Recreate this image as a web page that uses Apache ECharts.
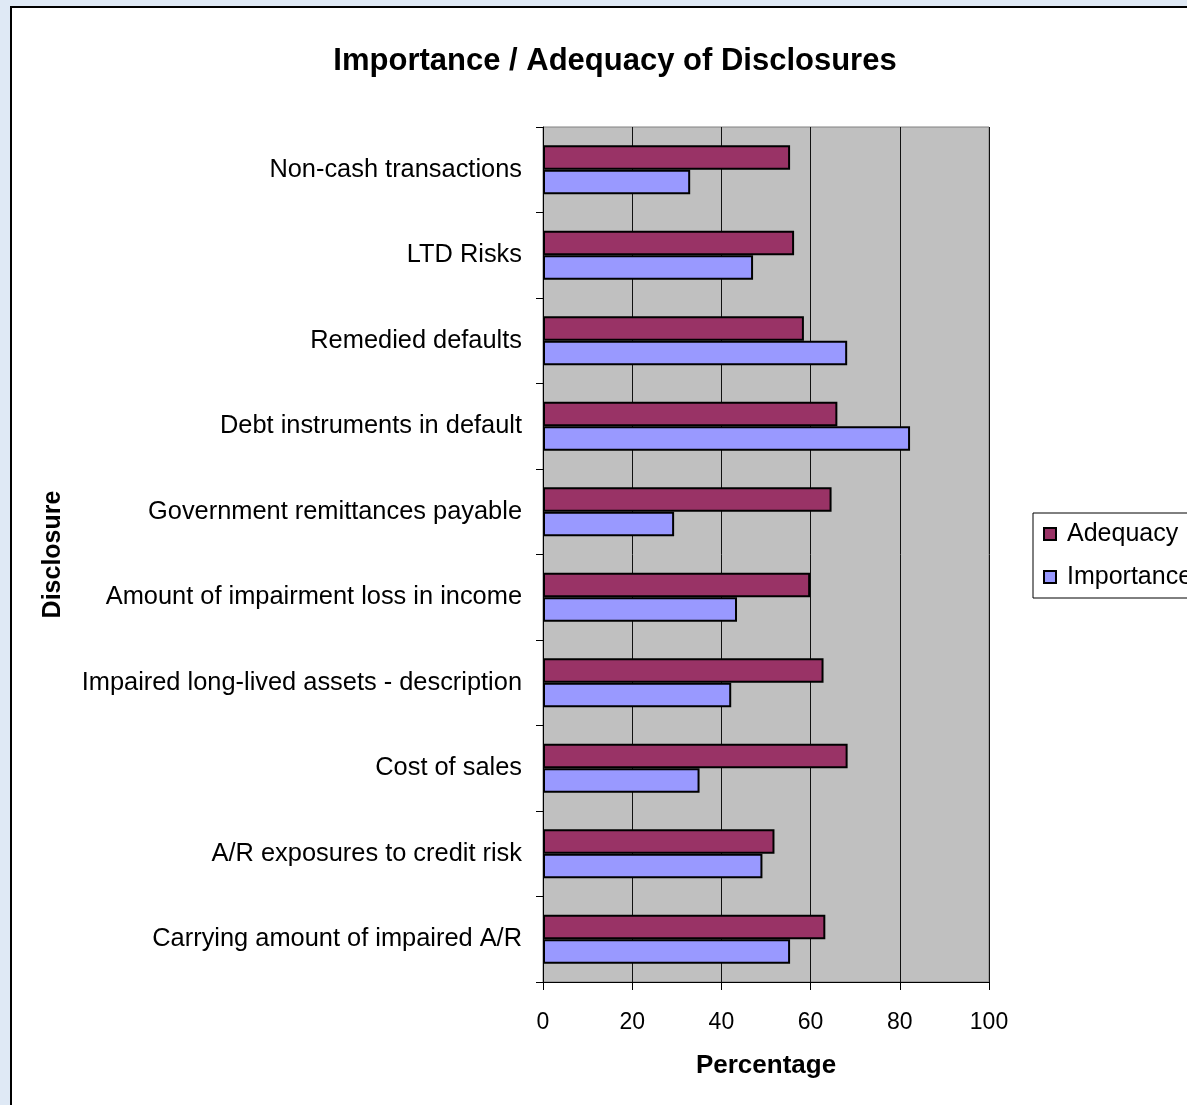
<!DOCTYPE html>
<html>
<head>
<meta charset="utf-8">
<script src="https://cdn.jsdelivr.net/npm/echarts@6/dist/echarts.min.js"></script>
<style>
  html, body { margin: 0; padding: 0; width: 1187px; height: 1105px; overflow: hidden; background: #dfe9f5; }
  #frame { position: absolute; left: 10px; top: 6px; width: 1250px; height: 1200px; background: #ffffff;
           border-left: 2px solid #000; border-top: 2px solid #000; }
  #chart { position: absolute; left: 0; top: 0; width: 1187px; height: 1105px; }
</style>
</head>
<body>
<div id="frame"></div>
<div id="chart"></div>
<script>
// Disclosure items, listed top to bottom
const categories = [
  'Non-cash transactions',
  'LTD Risks',
  'Remedied defaults',
  'Debt instruments in default',
  'Government remittances payable',
  'Amount of impairment loss in income',
  'Impaired long-lived assets - description',
  'Cost of sales',
  'A/R exposures to credit risk',
  'Carrying amount of impaired A/R'
];
const adequacy   = [55.4, 56.3, 58.5, 66.0, 64.7, 59.9, 62.9, 68.3, 51.9, 63.3];
const importance = [33.0, 47.1, 68.2, 82.3, 29.4, 43.5, 42.2, 35.1, 49.2, 55.4];
const xTicks = [0, 20, 40, 60, 80, 100];

const FONT = 'Liberation Sans, Arial, sans-serif';
const chart = echarts.init(document.getElementById('chart'), null, { renderer: 'canvas' });

chart.setOption({
  backgroundColor: 'transparent',
  animation: false,
  title: {
    text: 'Importance / Adequacy of Disclosures',
    left: 610, top: 41, textAlign: 'center',
    textStyle: { fontFamily: FONT, fontSize: 31, fontWeight: 'bold', color: '#000' }
  },
  legend: {
    orient: 'vertical',
    left: 1033, top: 513,
    padding: [7, 40, 7, 10],
    itemGap: 15,
    itemWidth: 12, itemHeight: 12,
    backgroundColor: '#fff',
    borderColor: '#000', borderWidth: 1, borderRadius: 0,
    icon: 'rect',
    textStyle: { fontFamily: FONT, fontSize: 25, color: '#000', lineHeight: 28, padding: [0, 0, 0, 6] },
    data: ['Adequacy', 'Importance']
  },
  grid: { left: 543, top: 127, width: 446, height: 855, show: true,
          backgroundColor: '#c0c0c0', borderColor: '#808080', borderWidth: 1 },
  xAxis: {
    type: 'value', min: xTicks[0], max: xTicks[xTicks.length - 1], interval: 20,
    name: 'Percentage', nameLocation: 'middle', nameGap: 71,
    nameTextStyle: { fontFamily: FONT, fontSize: 26, fontWeight: 'bold', color: '#000' },
    axisLine: { show: true, lineStyle: { color: '#000', width: 1 } },
    axisTick: { show: true, length: 8, lineStyle: { color: '#000' } },
    axisLabel: { fontFamily: FONT, fontSize: 23, color: '#000', margin: 29 },
    splitLine: { show: true, lineStyle: { color: '#111', width: 1 } }
  },
  yAxis: {
    type: 'category', data: categories, inverse: true,
    name: 'Disclosure', nameLocation: 'middle', nameGap: 477, nameRotate: 90,
    nameTextStyle: { fontFamily: FONT, fontSize: 25, fontWeight: 'bold', color: '#000' },
    axisLine: { show: true, lineStyle: { color: '#000', width: 1 } },
    axisTick: { show: true, length: 7, lineStyle: { color: '#000' } },
    axisLabel: { fontFamily: FONT, fontSize: 25.4, color: '#000', margin: 21 },
    splitLine: { show: false }
  },
  series: [
    {
      name: 'Adequacy', type: 'bar', data: adequacy,
      barWidth: 24.5, barGap: '0%',
      itemStyle: { color: '#993366', borderColor: '#000', borderWidth: 2 }
    },
    {
      name: 'Importance', type: 'bar', data: importance,
      barWidth: 24.5, barGap: '0%',
      itemStyle: { color: '#9999ff', borderColor: '#000', borderWidth: 2 }
    }
  ]
});
</script>
</body>
</html>
